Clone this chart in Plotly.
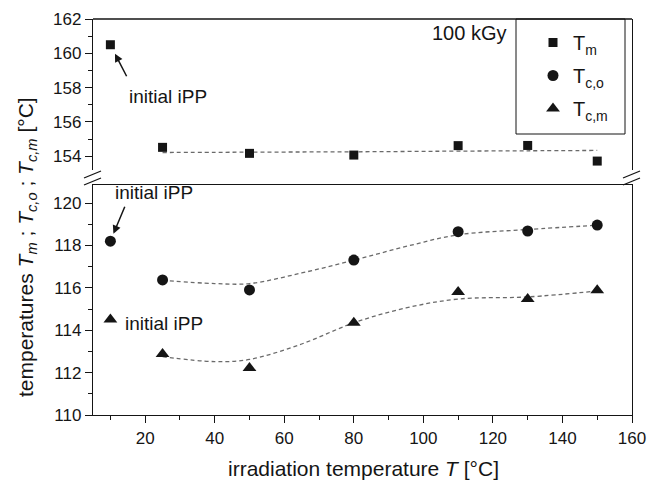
import plotly.graph_objects as go

# irradiation temperature (°C); first point is the non-irradiated iPP
irr_T = [10, 25, 50, 80, 110, 130, 150]
T_m = [160.5, 154.52, 154.17, 154.07, 154.62, 154.63, 153.72]
T_co = [118.2, 116.37, 115.9, 117.31, 118.65, 118.68, 118.96]
T_cm = [114.5, 112.88, 112.22, 114.35, 115.8, 115.47, 115.88]

# guide-to-the-eye curves (irradiated samples only)
fit_T = [25, 40, 50, 65, 80, 95, 110, 130, 150]
fit_m = [154.22, 154.23, 154.24, 154.25, 154.26, 154.28, 154.3, 154.32, 154.34]
fit_co = [116.35, 116.2, 116.2, 116.7, 117.3, 117.95, 118.5, 118.75, 118.95]
fit_cm = [112.75, 112.52, 112.62, 113.35, 114.35, 115.05, 115.47, 115.57, 115.85]

x_ticks = [20, 40, 60, 80, 100, 120, 140, 160]

FONT = "Liberation Sans, Arial, sans-serif"
INK = "#151515"
GUIDE = "#6a6a6a"

# plot-area geometry (pixels) used for the broken-axis decorations
L, R, TOP, BOT = 93, 632, 19, 415
W, H = R - L, BOT - TOP


def px_x(p):
    return (p - L) / W


def px_y(p):
    return (BOT - p) / H


fig = go.Figure()

# dashed guide lines
for ys, ax in [(fit_m, "y2"), (fit_co, "y"), (fit_cm, "y")]:
    fig.add_trace(go.Scatter(
        x=fit_T, y=ys, yaxis=ax, mode="lines", showlegend=False,
        line=dict(color=GUIDE, width=1.3, dash="4px,3px", shape="spline", smoothing=1.0),
        hoverinfo="skip"))

fig.add_trace(go.Scatter(
    x=irr_T, y=T_m, yaxis="y2", mode="markers", name="T<sub>m</sub>",
    legendgroup="a",
    marker=dict(symbol="square", size=9, color=INK)))
fig.add_trace(go.Scatter(
    x=irr_T, y=T_co, yaxis="y", mode="markers", name="T<sub>c,o</sub>",
    legendgroup="b",
    marker=dict(symbol="circle", size=11, color=INK)))
fig.add_trace(go.Scatter(
    x=irr_T, y=T_cm, yaxis="y", mode="markers", name="T<sub>c,m</sub>",
    legendgroup="c",
    marker=dict(symbol="triangle-up", size=12, color=INK)))

tick_font = dict(family=FONT, size=17, color=INK)
ax_common = dict(showline=True, linecolor=INK, linewidth=1.4, ticks="outside",
                 tickcolor=INK, tickwidth=1.3, ticklen=7, showgrid=False,
                 zeroline=False, tickfont=tick_font, mirror=True, automargin=False)

fig.update_layout(
    width=649, height=482,
    margin=dict(l=L, r=649 - R, t=TOP, b=482 - BOT, autoexpand=False),
    paper_bgcolor="white", plot_bgcolor="white",
    font=dict(family=FONT, color=INK),
    xaxis=dict(range=[5, 160], tickvals=x_ticks, anchor="y",
               minor=dict(dtick=10, tick0=0, ticks="outside", ticklen=4,
                          tickcolor=INK, tickwidth=1.2),
               **ax_common),
    yaxis=dict(range=[110, 120.85], domain=[0, px_y(185)], dtick=2, tick0=110,
               anchor="x",
               minor=dict(dtick=1, ticks="outside", ticklen=4,
                          tickcolor=INK, tickwidth=1.2),
               **ax_common),
    yaxis2=dict(range=[153.2, 162], domain=[px_y(170), 1], dtick=2, tick0=154,
                anchor="x",
                minor=dict(dtick=1, ticks="outside", ticklen=4,
                           tickcolor=INK, tickwidth=1.2),
                **ax_common),
    legend=dict(x=px_x(533), y=px_y(TOP + 4), xanchor="left", yanchor="top",
                bgcolor="rgba(0,0,0,0)", borderwidth=0,
                font=dict(family=FONT, size=20, color=INK),
                tracegroupgap=4, itemwidth=30),
    showlegend=True,
)

shapes = []
# top border
shapes.append(dict(type="line", xref="paper", yref="paper", x0=0, x1=1, y0=1, y1=1,
                   line=dict(color=INK, width=1.4)))
# legend frame
shapes.append(dict(type="rect", xref="paper", yref="paper",
                   x0=px_x(516), x1=px_x(625), y0=px_y(134), y1=px_y(TOP),
                   line=dict(color=INK, width=1), fillcolor="rgba(0,0,0,0)"))
# axis-break marks on both sides
for cx in (L, R):
    for dy in (0, 7):
        shapes.append(dict(type="line", xref="paper", yref="paper",
                           x0=px_x(cx - 9), x1=px_x(cx + 8),
                           y0=px_y(178 + dy), y1=px_y(171 + dy),
                           line=dict(color=INK, width=1.3)))
fig.update_layout(shapes=shapes)

ann_font = dict(family=FONT, size=19, color=INK)
title_font = dict(family=FONT, size=21, color=INK)
annotations = [
    dict(text="100 kGy", x=102.0, y=161.18, xref="x", yref="y2", xanchor="left",
         yanchor="middle", showarrow=False, font=dict(family=FONT, size=20, color=INK)),
    dict(text="initial iPP", x=14.8, y=157.5, xref="x", yref="y2", xanchor="left",
         yanchor="middle", showarrow=False, font=ann_font),
    dict(text="initial iPP", x=10.7, y=120.5, xref="x", yref="y", xanchor="left",
         yanchor="middle", showarrow=False, font=ann_font),
    dict(text="initial iPP", x=13.6, y=114.34, xref="x", yref="y", xanchor="left",
         yanchor="middle", showarrow=False, font=ann_font),
    # arrows pointing at the initial iPP points
    dict(text="", x=irr_T[0], y=T_m[0], xref="x", yref="y2", showarrow=True,
         ax=17, ay=33, axref="pixel", ayref="pixel", arrowhead=2, arrowsize=1.1,
         arrowwidth=1.5, arrowcolor=INK, standoff=10),
    dict(text="", x=irr_T[0], y=T_co[0], xref="x", yref="y", showarrow=True,
         ax=15, ay=-36, axref="pixel", ayref="pixel", arrowhead=2, arrowsize=1.1,
         arrowwidth=1.5, arrowcolor=INK, standoff=8),
    # axis titles
    dict(text="irradiation temperature <i>T</i> [°C]", x=px_x(363), y=px_y(469),
         xref="paper", yref="paper", xanchor="center", yanchor="middle",
         showarrow=False, font=title_font),
    dict(text="temperatures <i>T</i><sub><i>m</i></sub> ; <i>T</i><sub><i>c,o</i></sub> ; "
              "<i>T</i><sub><i>c,m</i></sub> [°C]",
         x=px_x(27), y=px_y(247), xref="paper", yref="paper", textangle=-90,
         xanchor="center", yanchor="middle", showarrow=False, font=title_font),
]
fig.update_layout(annotations=annotations)

fig.write_html("out.html")
